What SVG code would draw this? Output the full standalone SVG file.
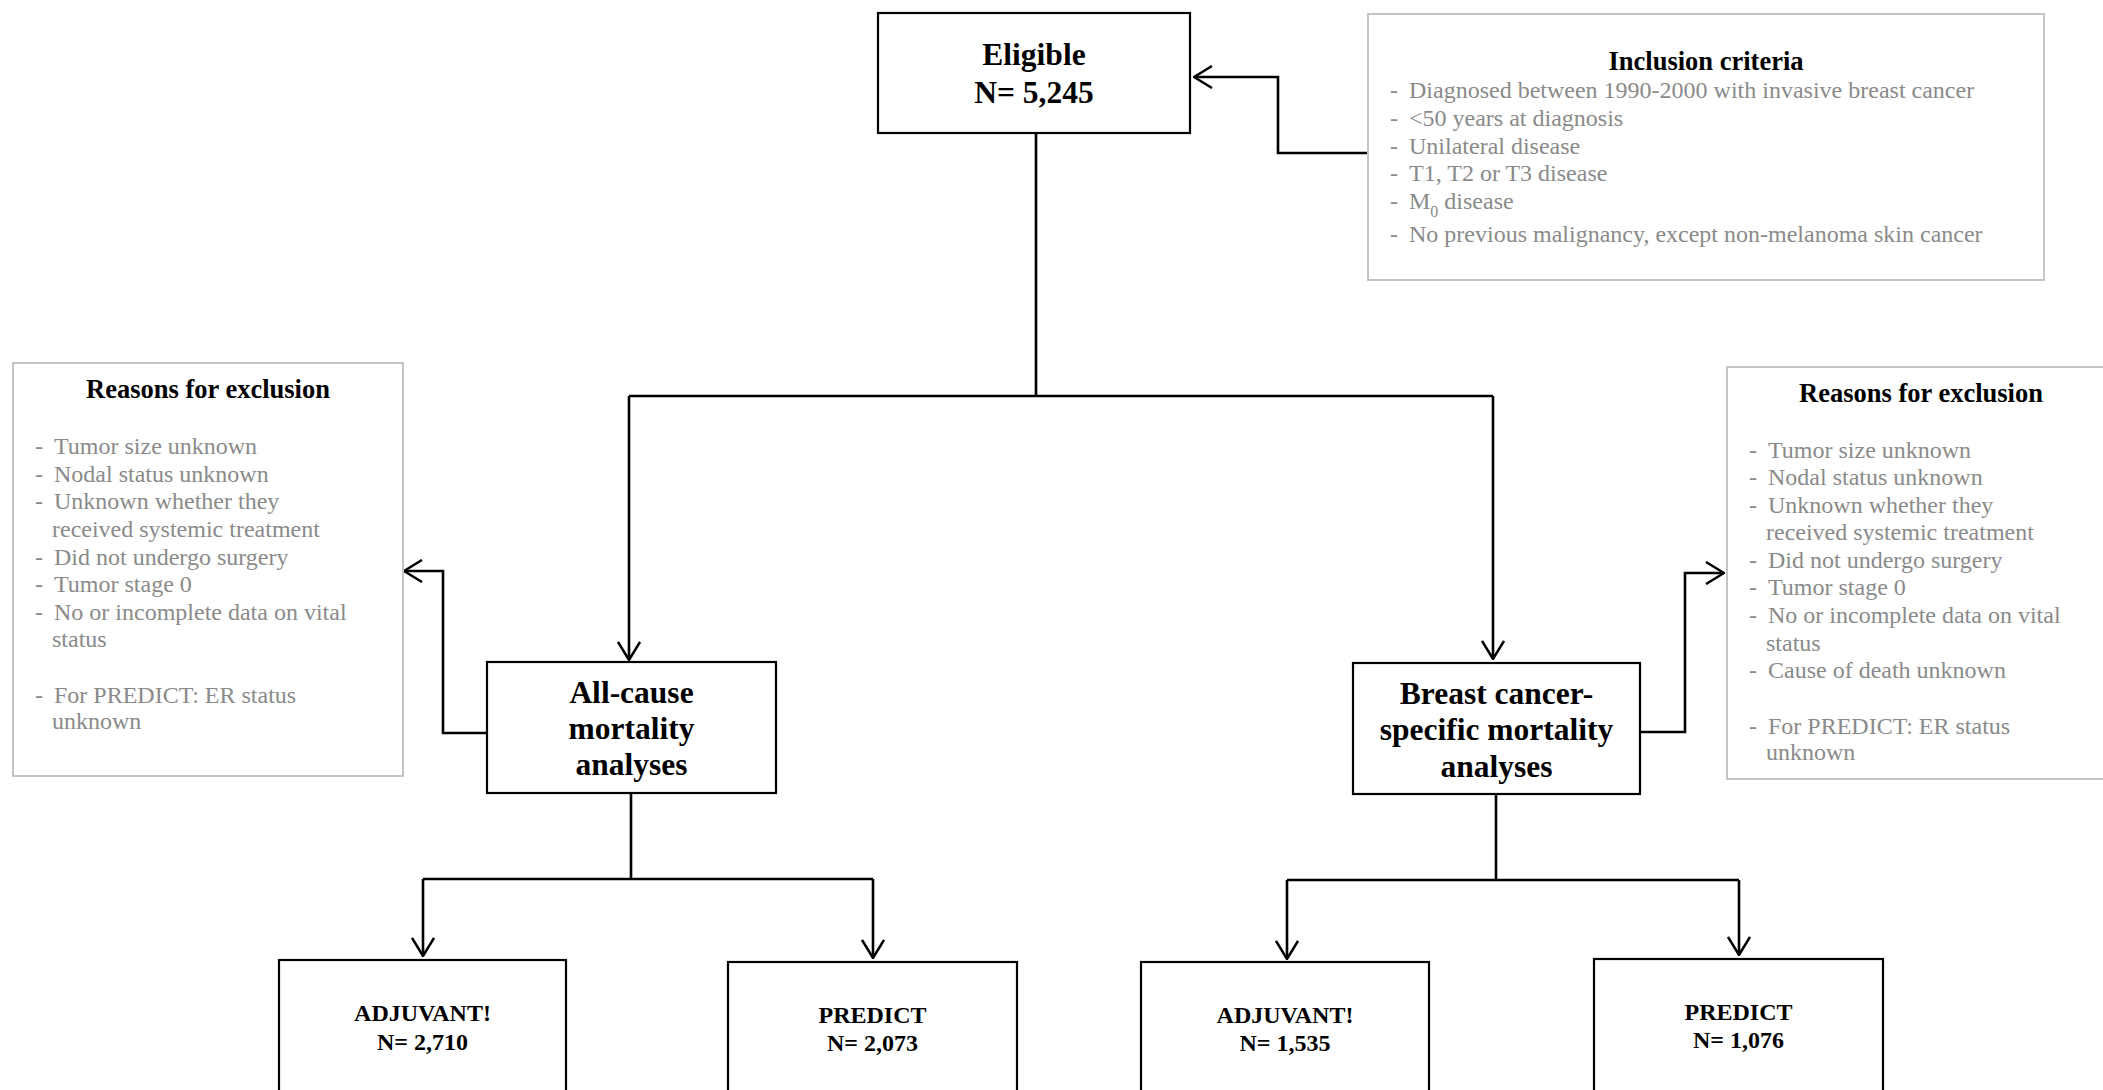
<svg xmlns="http://www.w3.org/2000/svg" width="2103" height="1090" viewBox="0 0 2103 1090">
<style>
  .box { fill: #ffffff; stroke: #000000; stroke-width: 2.2; }
  .gbox { fill: #ffffff; stroke: #c4c4c4; stroke-width: 2; }
  .t { font-family: "Liberation Serif", "Times New Roman", serif; }
  .big { font-size: 31.5px; font-weight: bold; fill: #000; text-anchor: middle; }
  .small { font-size: 24px; font-weight: bold; fill: #000; text-anchor: middle; }
  .title { font-size: 26.5px; font-weight: bold; fill: #000; text-anchor: middle; }
  .item { font-size: 24px; fill: #8a8a8a; }
  .conn { fill: none; stroke: #000; stroke-width: 2.6; }
</style>
<defs>
  <marker id="arr" markerUnits="userSpaceOnUse" viewBox="0 0 20 24" markerWidth="20" markerHeight="24" refX="19" refY="12" orient="auto">
    <path d="M1,1 L19,12 L1,23" fill="none" stroke="#000" stroke-width="2.5"/>
  </marker>
</defs>
<rect width="2103" height="1090" fill="#ffffff"/>

<g id="connectors">
  <path class="conn" d="M1368,153 H1278 V77 H1194" marker-end="url(#arr)"/>
  <path class="conn" d="M1036,133 V396"/>
  <path class="conn" d="M629,396 H1493"/>
  <path class="conn" d="M629,396 V660" marker-end="url(#arr)"/>
  <path class="conn" d="M1493,396 V659" marker-end="url(#arr)"/>
  <path class="conn" d="M487,733 H443 V571 H404" marker-end="url(#arr)"/>
  <path class="conn" d="M1640,732 H1685 V573 H1724" marker-end="url(#arr)"/>
  <path class="conn" d="M631,793 V879"/>
  <path class="conn" d="M423,879 H873"/>
  <path class="conn" d="M423,879 V956" marker-end="url(#arr)"/>
  <path class="conn" d="M873,879 V958" marker-end="url(#arr)"/>
  <path class="conn" d="M1496,794 V880"/>
  <path class="conn" d="M1287,880 H1739"/>
  <path class="conn" d="M1287,880 V959" marker-end="url(#arr)"/>
  <path class="conn" d="M1739,880 V955" marker-end="url(#arr)"/>
</g>

<g id="eligible">
  <rect class="box" x="878" y="13" width="312" height="120"/>
  <text class="t big" x="1034" y="65">Eligible</text>
  <text class="t big" x="1034" y="103">N= 5,245</text>
</g>

<g id="inclusion">
  <rect class="gbox" x="1368" y="14" width="676" height="266"/>
  <text class="t title" x="1706" y="70">Inclusion criteria</text>
  <g class="t item">
    <text x="1390" y="98">-</text><text x="1409" y="98">Diagnosed between 1990-2000 with invasive breast cancer</text>
    <text x="1390" y="126">-</text><text x="1409" y="126">&lt;50 years at diagnosis</text>
    <text x="1390" y="154">-</text><text x="1409" y="154">Unilateral disease</text>
    <text x="1390" y="181">-</text><text x="1409" y="181">T1, T2 or T3 disease</text>
    <text x="1390" y="209">-</text><text x="1409" y="209">M<tspan font-size="16" dy="8">0</tspan><tspan dy="-8"> disease</tspan></text>
    <text x="1390" y="242">-</text><text x="1409" y="242">No previous malignancy, except non-melanoma skin cancer</text>
  </g>
</g>

<g id="exclusion-left">
  <rect class="gbox" x="13" y="363" width="390" height="413"/>
  <text class="t title" x="208" y="398">Reasons for exclusion</text>
  <g class="t item">
    <text x="35" y="454">-</text><text x="54" y="454">Tumor size unknown</text>
    <text x="35" y="482">-</text><text x="54" y="482">Nodal status unknown</text>
    <text x="35" y="509">-</text><text x="54" y="509">Unknown whether they</text>
    <text x="52" y="537">received systemic treatment</text>
    <text x="35" y="565">-</text><text x="54" y="565">Did not undergo surgery</text>
    <text x="35" y="592">-</text><text x="54" y="592">Tumor stage 0</text>
    <text x="35" y="620">-</text><text x="54" y="620">No or incomplete data on vital</text>
    <text x="52" y="647">status</text>
    <text x="35" y="703">-</text><text x="54" y="703">For PREDICT: ER status</text>
    <text x="52" y="729">unknown</text>
  </g>
</g>

<g id="exclusion-right">
  <rect class="gbox" x="1727" y="367" width="400" height="412"/>
  <text class="t title" x="1921" y="402">Reasons for exclusion</text>
  <g class="t item">
    <text x="1749" y="458">-</text><text x="1768" y="458">Tumor size unknown</text>
    <text x="1749" y="485">-</text><text x="1768" y="485">Nodal status unknown</text>
    <text x="1749" y="513">-</text><text x="1768" y="513">Unknown whether they</text>
    <text x="1766" y="540">received systemic treatment</text>
    <text x="1749" y="568">-</text><text x="1768" y="568">Did not undergo surgery</text>
    <text x="1749" y="595">-</text><text x="1768" y="595">Tumor stage 0</text>
    <text x="1749" y="623">-</text><text x="1768" y="623">No or incomplete data on vital</text>
    <text x="1766" y="651">status</text>
    <text x="1749" y="678">-</text><text x="1768" y="678">Cause of death unknown</text>
    <text x="1749" y="734">-</text><text x="1768" y="734">For PREDICT: ER status</text>
    <text x="1766" y="760">unknown</text>
  </g>
</g>

<g id="allcause">
  <rect class="box" x="487" y="662" width="289" height="131"/>
  <text class="t big" x="631.5" y="703">All-cause</text>
  <text class="t big" x="631.5" y="739">mortality</text>
  <text class="t big" x="631.5" y="775">analyses</text>
</g>

<g id="breastcancer">
  <rect class="box" x="1353" y="663" width="287" height="131"/>
  <text class="t big" x="1496.5" y="704">Breast cancer-</text>
  <text class="t big" x="1496.5" y="740">specific mortality</text>
  <text class="t big" x="1496.5" y="777">analyses</text>
</g>

<g id="adjuvant-allcause">
  <rect class="box" x="279" y="960" width="287" height="150"/>
  <text class="t small" x="422.5" y="1021">ADJUVANT!</text>
  <text class="t small" x="422.5" y="1050">N= 2,710</text>
</g>

<g id="predict-allcause">
  <rect class="box" x="728" y="962" width="289" height="150"/>
  <text class="t small" x="872.5" y="1023">PREDICT</text>
  <text class="t small" x="872.5" y="1051">N= 2,073</text>
</g>

<g id="adjuvant-bc">
  <rect class="box" x="1141" y="962" width="288" height="150"/>
  <text class="t small" x="1285" y="1023">ADJUVANT!</text>
  <text class="t small" x="1285" y="1051">N= 1,535</text>
</g>

<g id="predict-bc">
  <rect class="box" x="1594" y="959" width="289" height="150"/>
  <text class="t small" x="1738.5" y="1020">PREDICT</text>
  <text class="t small" x="1738.5" y="1048">N= 1,076</text>
</g>
</svg>
